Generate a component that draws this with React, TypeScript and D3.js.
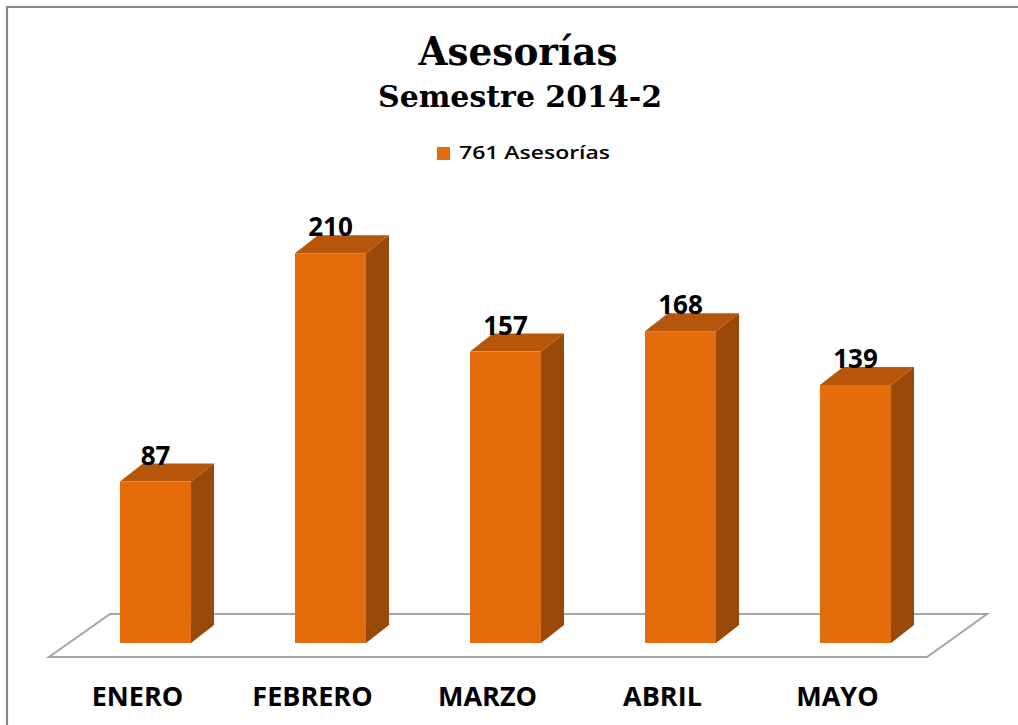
import React from 'react';
import * as d3 from 'd3';

const categories = ['ENERO', 'FEBRERO', 'MARZO', 'ABRIL', 'MAYO'];
const values = [87, 210, 157, 168, 139];
const seriesName = '761 Asesorías';
const titleText = 'Asesorías';
const subtitleText = 'Semestre 2014-2';

const W = 1018;
const H = 725;
const FRONT = '#E46C0A';
const SIDE = '#984807';
const TOP = '#B5560A';
const DX = 23;
const DY = -18;

export default function App() {
  const x = d3
    .scaleBand<string>()
    .domain(categories)
    .range([68, 943])
    .paddingInner(0.594)
    .paddingOuter(0.297);
  const y = d3.scaleLinear().domain([0, 250]).range([643, 179]);
  const bw = x.bandwidth();
  const base = y(0);

  const floor: [number, number][] = [
    [49, 657],
    [927, 657],
    [987, 614],
    [110, 614],
  ];
  const line = d3.line();

  return (
    <svg
      width={W}
      height={H}
      style={{ position: 'absolute', left: 0, top: 0, background: '#fff' }}
    >
      <rect x={0} y={0} width={W} height={H} fill="#fff" />
      {/* chart border */}
      <path d="M7,730 L7,7 L1030,7" fill="none" stroke="#888" strokeWidth={2.2} />
      {/* title */}
      <text
        x={518}
        y={65}
        textAnchor="middle"
        fontFamily="'DejaVu Serif', serif"
        fontWeight="bold"
        fontSize={40}
        textLength={199}
        lengthAdjust="spacingAndGlyphs"
        fill="#000"
      >
        {titleText}
      </text>
      <text
        x={520}
        y={107}
        textAnchor="middle"
        fontFamily="'DejaVu Serif', serif"
        fontWeight="bold"
        fontSize={30}
        textLength={284}
        lengthAdjust="spacingAndGlyphs"
        fill="#000"
      >
        {subtitleText}
      </text>
      {/* legend */}
      <rect x={437} y={147} width={13} height={13} fill={FRONT} />
      <text
        x={459}
        y={159}
        fontFamily="'Open Sans', sans-serif"
        fontWeight={600}
        fontSize={18}
        textLength={151}
        lengthAdjust="spacingAndGlyphs"
        fill="#000"
      >
        {seriesName}
      </text>
      {/* floor */}
      <path d={line(floor) + 'Z'} fill="#fff" stroke="#A6A6A6" strokeWidth={2} />
      {/* bars */}
      {categories.map((c, i) => {
        const x0 = x(c) as number;
        const x1 = x0 + bw;
        const yt = y(values[i]);
        const side: [number, number][] = [
          [x1, yt],
          [x1 + DX, yt + DY],
          [x1 + DX, base + DY],
          [x1, base],
        ];
        const top: [number, number][] = [
          [x0, yt],
          [x0 + DX, yt + DY],
          [x1 + DX, yt + DY],
          [x1, yt],
        ];
        return (
          <g key={c}>
            <path d={line(side) + 'Z'} fill={SIDE} />
            <path d={line(top) + 'Z'} fill={TOP} />
            <rect x={x0} y={yt} width={bw} height={base - yt} fill={FRONT} />
            <text
              x={x0 + bw / 2}
              y={yt + DY + 1}
              textAnchor="middle"
              fontFamily="'Open Sans', sans-serif"
              fontWeight="bold"
              fontSize={26}
              fill="#000"
            >
              {values[i]}
            </text>
            <text
              x={x0 + bw / 2 - 18}
              y={706}
              textAnchor="middle"
              fontFamily="'Open Sans', sans-serif"
              fontWeight="bold"
              fontSize={27}
              fill="#000"
            >
              {c}
            </text>
          </g>
        );
      })}
    </svg>
  );
}
